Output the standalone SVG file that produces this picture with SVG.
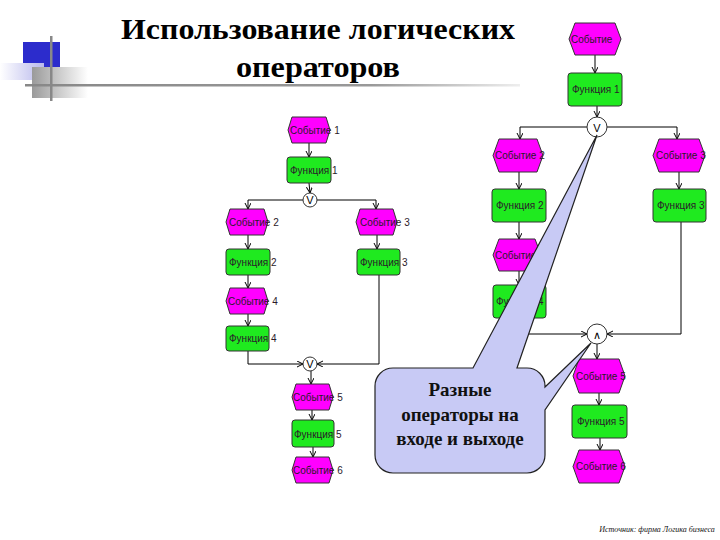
<svg xmlns="http://www.w3.org/2000/svg" width="720" height="540" viewBox="0 0 720 540">
<defs>
<marker id="arr" markerUnits="userSpaceOnUse" markerWidth="8" markerHeight="8" refX="6" refY="3" orient="auto">
<path d="M0,0 L6,3 L0,6" fill="none" stroke="#000" stroke-width="1"/>
</marker>
<linearGradient id="lav" x1="0" y1="0" x2="1" y2="0">
<stop offset="0" stop-color="#ffffff"/>
<stop offset="1" stop-color="#b8b8ec"/>
</linearGradient>
<linearGradient id="gry" x1="0" y1="0" x2="1" y2="0">
<stop offset="0" stop-color="#9a9a9a"/>
<stop offset="1" stop-color="#ffffff"/>
</linearGradient>
<linearGradient id="hl" x1="0" y1="0" x2="1" y2="0">
<stop offset="0" stop-color="#888"/>
<stop offset="0.7" stop-color="#999"/>
<stop offset="1" stop-color="#eee"/>
</linearGradient>
<style>
.ev{fill:#ff00ff;stroke:#333;stroke-width:1}
.fn{fill:#1fea1f;stroke:#333;stroke-width:1}
.lbl{font-family:"Liberation Sans",Arial,sans-serif;font-size:10px;fill:#2a1a2a}
.con{fill:none;stroke:#000;stroke-width:1;marker-end:url(#arr)}
.ln{fill:none;stroke:#000;stroke-width:1}
.op{fill:#fff;stroke:#333;stroke-width:1}
.opt{font-family:"Liberation Sans",Arial,sans-serif;font-size:11px;fill:#000;text-anchor:middle}
.title{font-family:"Liberation Serif","Times New Roman",serif;font-weight:bold;font-size:30px;fill:#000;text-anchor:middle}
.call{font-family:"Liberation Serif","Times New Roman",serif;font-weight:bold;font-size:19px;fill:#111;text-anchor:middle}
</style>
</defs>

<g id="decor">
<rect x="23" y="42" width="37" height="27" fill="#2c2ccc"/>
<rect x="0" y="63" width="44" height="17" fill="url(#lav)"/>
<rect x="32" y="67" width="56" height="31" fill="url(#gry)"/>
<rect x="25" y="84" width="495" height="2.5" fill="url(#hl)"/>
<rect x="50" y="36" width="2.5" height="65" fill="#888"/>
</g>

<g id="title">
<text class="title" x="318" y="39" textLength="394" lengthAdjust="spacingAndGlyphs">Использование логических</text>
<text class="title" x="318" y="77" textLength="164" lengthAdjust="spacingAndGlyphs">операторов</text>
</g>

<g id="connectors">
<line class="con" x1="309" y1="143" x2="309" y2="157"/>
<line class="con" x1="309" y1="183" x2="310" y2="193"/>
<polyline class="con" points="303,200 248,200 248,209"/>
<polyline class="con" points="317,200 376,200 376,209"/>
<line class="con" x1="248" y1="235" x2="248" y2="249"/>
<line class="con" x1="248" y1="275" x2="248" y2="288"/>
<line class="con" x1="248" y1="314" x2="248" y2="326"/>
<line class="con" x1="377" y1="235" x2="377" y2="249"/>
<polyline class="con" points="379,275 379,364 317,364"/>
<polyline class="con" points="248,351 248,364 303,364"/>
<line class="con" x1="311" y1="371" x2="311" y2="384"/>
<line class="con" x1="312" y1="410" x2="312" y2="420"/>
<line class="con" x1="313" y1="447" x2="313" y2="457"/>

<line class="con" x1="595" y1="55" x2="595" y2="73"/>
<line class="con" x1="597" y1="106" x2="597" y2="117"/>
<polyline class="con" points="587,127 520,127 520,139"/>
<polyline class="con" points="607,127 677,127 677,139"/>
<line class="con" x1="519" y1="172" x2="519" y2="189"/>
<line class="con" x1="519" y1="222" x2="519" y2="239"/>
<line class="con" x1="519" y1="271" x2="519" y2="285"/>
<line class="con" x1="679" y1="172" x2="679" y2="189"/>
<polyline class="con" points="681,222 681,334 607,334"/>
<polyline class="con" points="520,318 520,334 587,334"/>
<line class="con" x1="597" y1="344" x2="597" y2="359"/>
<line class="con" x1="599" y1="393" x2="599" y2="405"/>
<line class="con" x1="600" y1="438" x2="600" y2="450"/>
</g>

<g id="l-ev1"><polygon class="ev" points="292,117 326,117 330,130 326,143 292,143 288,130"/><text class="lbl" x="290" y="134">Событие 1</text></g>
<g id="l-fn1"><rect class="fn" x="287" y="157" width="44" height="26" rx="3"/><text class="lbl" x="290" y="174">Функция 1</text></g>
<g id="l-or1"><circle class="op" cx="310" cy="200" r="7"/><text class="opt" x="310" y="204">V</text></g>
<g id="l-ev2"><polygon class="ev" points="230,209 264,209 268,222 264,235 230,235 226,222"/><text class="lbl" x="229" y="226">Событие 2</text></g>
<g id="l-ev3"><polygon class="ev" points="360,209 393,209 397,222 393,235 360,235 356,222"/><text class="lbl" x="360" y="226">Событие 3</text></g>
<g id="l-fn2"><rect class="fn" x="226" y="249" width="44" height="26" rx="3"/><text class="lbl" x="229" y="266">Функция 2</text></g>
<g id="l-fn3"><rect class="fn" x="357" y="249" width="43" height="26" rx="3"/><text class="lbl" x="360" y="266">Функция 3</text></g>
<g id="l-ev4"><polygon class="ev" points="230,288 264,288 268,301 264,314 230,314 226,301"/><text class="lbl" x="228" y="305">Событие 4</text></g>
<g id="l-fn4"><rect class="fn" x="226" y="326" width="43" height="25" rx="3"/><text class="lbl" x="229" y="342">Функция 4</text></g>
<g id="l-or2"><circle class="op" cx="310" cy="364" r="7"/><text class="opt" x="310" y="368">V</text></g>
<g id="l-ev5"><polygon class="ev" points="296,384 329,384 333,397 329,410 296,410 292,397"/><text class="lbl" x="293" y="401">Событие 5</text></g>
<g id="l-fn5"><rect class="fn" x="292" y="420" width="42" height="27" rx="3"/><text class="lbl" x="294" y="438">Функция 5</text></g>
<g id="l-ev6"><polygon class="ev" points="296,457 329,457 333,470 329,483 296,483 292,470"/><text class="lbl" x="293" y="474">Событие 6</text></g>

<g id="r-ev1"><polygon class="ev" points="575,23 615,23 621,39 615,55 575,55 569,39"/><text class="lbl" x="571" y="43">Событие</text></g>
<g id="r-fn1"><rect class="fn" x="568" y="73" width="54" height="33" rx="3"/><text class="lbl" x="572" y="93">Функция 1</text></g>
<g id="r-or"><circle class="op" cx="597" cy="127" r="10"/><text class="opt" x="597" y="132">V</text></g>
<g id="r-ev2"><polygon class="ev" points="499,139 537,139 543,155.5 537,172 499,172 493,155.5"/><text class="lbl" x="495" y="159">Событие 2</text></g>
<g id="r-ev3"><polygon class="ev" points="659,139 699,139 705,155.5 699,172 659,172 653,155.5"/><text class="lbl" x="656" y="159">Событие 3</text></g>
<g id="r-fn2"><rect class="fn" x="492" y="189" width="54" height="33" rx="3"/><text class="lbl" x="496" y="209">Функция 2</text></g>
<g id="r-fn3"><rect class="fn" x="653" y="189" width="53" height="33" rx="3"/><text class="lbl" x="657" y="209">Функция 3</text></g>
<g id="r-ev4"><polygon class="ev" points="499,239 535,239 541,255 535,271 499,271 493,255"/><text class="lbl" x="495" y="259">Событие 4</text></g>
<g id="r-fn4"><rect class="fn" x="493" y="285" width="53" height="33" rx="3"/><text class="lbl" x="496" y="305">Функция 4</text></g>
<g id="r-and"><circle class="op" cx="597" cy="334" r="10"/><text class="opt" x="597" y="339" font-family="DejaVu Sans, sans-serif">∧</text></g>
<g id="r-ev5"><polygon class="ev" points="579,359 619,359 625,376 619,393 579,393 573,376"/><text class="lbl" x="576" y="380">Событие 5</text></g>
<g id="r-fn5"><rect class="fn" x="572" y="405" width="55" height="33" rx="3"/><text class="lbl" x="577" y="425">Функция 5</text></g>
<g id="r-ev6"><polygon class="ev" points="579,450 619,450 625,466.5 619,483 579,483 573,466.5"/><text class="lbl" x="576" y="470">Событие 6</text></g>

<g id="callout">
<path d="M393,368 H473 L597,135 L517,368 H527 A18,18 0 0 1 545,386 V387 L591,343 L545,410 V455 A18,18 0 0 1 527,473 H393 A18,18 0 0 1 375,455 V386 A18,18 0 0 1 393,368 Z" fill="#c8caf5" stroke="#222" stroke-width="1.2"/>
<text class="call" x="460" y="396">Разные</text>
<text class="call" x="460" y="421">операторы на</text>
<text class="call" x="460" y="445">входе и выходе</text>
</g>

<text x="657" y="532" font-family="Liberation Serif, Times New Roman, serif" font-style="italic" font-size="8" text-anchor="middle" fill="#111">Источник: фирма Логика бизнеса</text>
</svg>
